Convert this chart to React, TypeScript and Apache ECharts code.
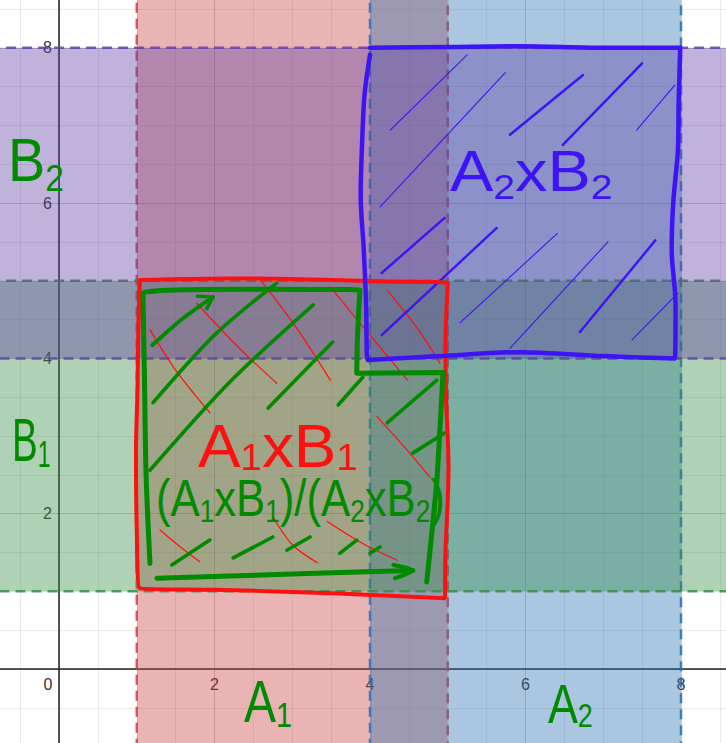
import { useEffect, useRef } from "react";
import * as echarts from "echarts";

// axis window (grid is larger than the page so that 0..8 sits where the picture has it)
const X_MIN = -2;
const X_MAX = 10;
const Y_MIN = -2;
const Y_MAX = 10;

// the four sets
const setA1 = [1, 5];
const setA2 = [4, 8];
const setB1 = [1, 5];
const setB2 = [4, 8];

// hand drawn outlines, in graph units
const redBox = [
  [1.04, 5.01], [2.2, 5.03], [3.1, 5.02], [4.2, 4.99], [5.0, 4.97], [4.97, 4.2],
  [4.98, 3.46], [5.01, 2.6], [5.0, 2.18], [4.97, 1.5], [4.96, 0.91], [4.1, 0.95],
  [3.1, 0.99], [2.0, 1.02], [1.04, 1.04], [1.0, 1.8], [0.99, 2.82], [1.01, 3.6],
  [1.02, 4.37], [1.04, 5.01],
];
const blueBox = [
  [4.0, 8.0], [5.0, 8.01], [5.93, 8.02], [7.0, 8.0], [7.99, 8.0], [7.97, 7.3],
  [7.96, 6.68], [7.9, 6.0], [7.88, 5.4], [7.93, 4.7], [7.92, 4.0], [7.0, 4.03],
  [5.93, 4.08], [4.9, 4.03], [3.97, 3.98], [3.95, 4.7], [3.92, 5.4], [3.88, 6.1],
  [3.9, 6.81], [3.93, 7.4], [4.0, 7.91],
];
const greenOutline = [
  [1.17, 1.36], [1.12, 2.5], [1.1, 3.7], [1.08, 4.84], [2.46, 4.89], [3.87, 4.88],
  [3.84, 4.3], [3.83, 3.81], [4.94, 3.82], [4.9, 3.1], [4.86, 2.43], [4.8, 1.8],
  [4.73, 1.12],
];
const greenArrowBottom = [[1.26, 1.17], [2.9, 1.22], [4.55, 1.27]];
const greenArrowBottomHead = [[4.3, 1.34], [4.55, 1.27], [4.32, 1.17]];
const greenArrowTop = [[1.2, 4.17], [1.6, 4.52], [1.98, 4.79]];
const greenArrowTopHead = [[1.78, 4.8], [1.98, 4.79], [1.9, 4.64]];

// hatching strokes
const greenHatch = [
  [[1.21, 3.43], [2.0, 4.3], [2.8, 4.97]],
  [[1.17, 2.56], [2.2, 3.7], [3.27, 4.69]],
  [[2.69, 3.36], [3.52, 4.21]],
  [[3.59, 3.4], [3.91, 3.76]],
  [[4.22, 3.17], [4.86, 3.72]],
  [[4.55, 2.78], [4.96, 3.04]],
  [[1.45, 1.34], [1.94, 1.66]],
  [[2.24, 1.43], [2.75, 1.7]],
  [[2.93, 1.53], [3.23, 1.7]],
  [[3.61, 1.49], [3.83, 1.66]],
  [[4.0, 1.49], [4.13, 1.57]],
];
const redHatch = [
  [[1.17, 4.37], [1.5, 3.85], [1.94, 3.3]],
  [[1.77, 4.71], [2.3, 4.15], [2.8, 3.68]],
  [[2.59, 5.01], [3.05, 4.4], [3.49, 3.72]],
  [[3.49, 4.92], [4.0, 4.3], [4.48, 3.72]],
  [[4.22, 4.88], [4.6, 4.4], [4.9, 3.94]],
  [[4.09, 3.25], [4.45, 2.85], [4.77, 2.47]],
  [[1.3, 1.79], [1.55, 1.58], [1.81, 1.38]],
  [[2.75, 1.96], [3.0, 1.6], [3.32, 1.37]],
  [[3.45, 1.9], [3.9, 1.62], [4.35, 1.4]],
];
const blueHatchThin = [
  [[4.26, 6.94], [5.25, 7.91]],
  [[4.13, 5.95], [5.74, 7.68]],
  [[7.43, 6.94], [7.92, 7.52]],
  [[5.16, 4.46], [6.41, 5.61]],
  [[5.8, 4.13], [7.06, 5.5]],
  [[7.37, 4.24], [7.96, 4.84]],
];
const blueHatchThick = [
  [[5.8, 6.88], [6.74, 7.65]],
  [[6.48, 6.75], [7.5, 7.8]],
  [[4.15, 5.1], [4.96, 5.81]],
  [[4.15, 4.3], [5.63, 5.68]],
  [[6.7, 4.34], [7.67, 5.52]],
];

const RED = "#c74440";
const BLUE = "#2d70b3";
const GREEN = "#388c46";
const PURPLE = "#6042a6";
const PEN_RED = "#ff1010";
const PEN_BLUE = "#3c14f5";
const PEN_GREEN = "#008a00";

const PX_X = 77.75;
const PX_Y = 77.65;
const ORIGIN_X = 59;
const ORIGIN_Y = 669;

function band(axis: "xAxis" | "yAxis", range: number[], color: string) {
  return {
    type: "line",
    data: [],
    silent: true,
    markArea: {
      silent: true,
      itemStyle: {
        color: echarts.color.modifyAlpha(color, 0.4),
        borderColor: echarts.color.modifyAlpha(color, 0.85),
        borderWidth: 2.5,
        borderType: [10, 6],
      },
      data: [[{ [axis]: range[0] }, { [axis]: range[1] }]],
    },
  };
}

function stroke(points: number[][], color: string, width: number, z = 5) {
  return {
    type: "line",
    data: points,
    symbol: "none",
    smooth: 0.3,
    silent: true,
    z,
    lineStyle: { color, width, cap: "round", join: "round" },
  };
}

function pen(text: string, x: number, y: number, size: number, color: string, scaleX = 1, drop = 0) {
  return {
    type: "text",
    x,
    y,
    scaleX,
    z: 10,
    silent: true,
    style: {
      text,
      fill: color,
      font: `${size}px "Liberation Sans"`,
      textVerticalAlign: "top",
      rich: {
        m: { fontSize: size, fontFamily: "Liberation Sans", fill: color, verticalAlign: "bottom", padding: [0, 0, size * drop, 0] },
        s: { fontSize: size * 0.6, fontFamily: "Liberation Sans", fill: color, verticalAlign: "bottom" },
      },
    },
  };
}

function axisCommon(labelFor: (v: number) => string) {
  return {
    type: "value",
    interval: 2,
    axisLine: { show: true, onZero: false, lineStyle: { color: "#222", width: 1.5 } },
    axisTick: { show: false },
    splitLine: { show: true, lineStyle: { color: "rgba(0,0,0,0.2)", width: 1 } },
    minorTick: { show: false, splitNumber: 4 },
    minorSplitLine: { show: true, lineStyle: { color: "rgba(0,0,0,0.08)", width: 1 } },
    axisLabel: {
      color: "#333",
      fontSize: 16,
      fontFamily: "Liberation Sans",
      margin: 7,
      formatter: labelFor,
      rich: { z: { fontSize: 16, color: "#333", fontFamily: "Liberation Sans", padding: [0, 22, 0, 0] } },
    },
  };
}

export default function App() {
  const ref = useRef<HTMLDivElement>(null);

  useEffect(() => {
    if (!ref.current) return;
    const chart = echarts.init(ref.current, undefined, { renderer: "svg" });
    const gridLeft = ORIGIN_X + X_MIN * PX_X;
    const gridTop = ORIGIN_Y - Y_MAX * PX_Y;
    const gridW = (X_MAX - X_MIN) * PX_X;
    const gridH = (Y_MAX - Y_MIN) * PX_Y;
    chart.setOption({
      animation: false,
      backgroundColor: "#fff",
      grid: {
        left: gridLeft,
        top: gridTop,
        width: gridW,
        height: gridH,
        containLabel: false,
        outerBoundsMode: "none",
      },
      xAxis: {
        ...axisCommon((v: number) => (v === 0 ? "{z|0}" : v > 0 && v < X_MAX ? String(v) : "")),
        position: "bottom",
        offset: ORIGIN_Y - (gridTop + gridH),
        min: X_MIN,
        max: X_MAX,
      },
      yAxis: {
        ...axisCommon((v: number) => (v > 0 && v < Y_MAX ? String(v) : "")),
        position: "left",
        offset: gridLeft - ORIGIN_X,
        min: Y_MIN,
        max: Y_MAX,
      },
      series: [
        band("xAxis", setA1, RED),
        band("xAxis", setA2, BLUE),
        band("yAxis", setB1, GREEN),
        band("yAxis", setB2, PURPLE),
        ...redHatch.map((p) => stroke(p, PEN_RED, 1.2, 4)),
        ...blueHatchThin.map((p) => stroke(p, PEN_BLUE, 1.1, 4)),
        ...blueHatchThick.map((p) => stroke(p, PEN_BLUE, 2.4, 4)),
        ...greenHatch.map((p) => stroke(p, PEN_GREEN, 3.6, 5)),
        stroke(redBox, PEN_RED, 4, 6),
        stroke(blueBox, PEN_BLUE, 4.5, 6),
        stroke(greenOutline, PEN_GREEN, 5, 7),
        stroke(greenArrowBottom, PEN_GREEN, 5, 7),
        stroke(greenArrowBottomHead, PEN_GREEN, 4, 7),
        stroke(greenArrowTop, PEN_GREEN, 4, 7),
        stroke(greenArrowTopHead, PEN_GREEN, 3.5, 7),
      ],
      graphic: [
        pen("{m|B}{s|2}", 8, 128, 62, PEN_GREEN, 0.9, 0.1),
        pen("{m|B}{s|1}", 12, 408, 62, PEN_GREEN, 0.62, 0.05),
        pen("{m|A}{s|1}", 244, 672, 60, PEN_GREEN, 0.8, 0),
        pen("{m|A}{s|2}", 548, 676, 56, PEN_GREEN, 0.8, 0),
        pen("{m|A}{s|2}{m|xB}{s|2}", 450, 142, 58, PEN_BLUE, 1.12, 0.08),
        pen("{m|A}{s|1}{m|xB}{s|1}", 198, 414, 62, PEN_RED, 1.03, 0),
        pen("{m|(A}{s|1}{m|xB}{s|1}{m|)/(A}{s|2}{m|xB}{s|2}{m|)}", 156, 472, 52, PEN_GREEN, 0.84, 0.06),
      ],
    });
    return () => chart.dispose();
  }, []);

  return <div ref={ref} style={{ position: "fixed", left: 0, top: 0, width: 726, height: 743 }} />;
}
